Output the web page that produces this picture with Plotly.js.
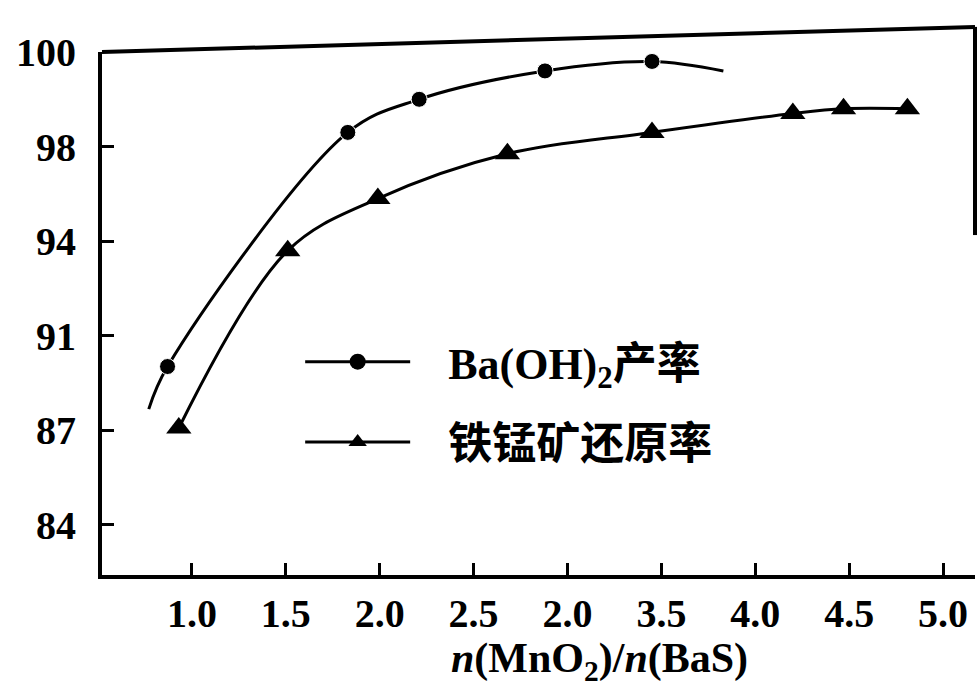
<!DOCTYPE html>
<html>
<head>
<meta charset="utf-8">
<script src="https://cdn.plot.ly/plotly-3.0.1.min.js"></script>
<style>
  html, body { margin: 0; padding: 0; background: #fff; }
  #chart { width: 978px; height: 687px; }
</style>
</head>
<body>
<div id="chart"></div>
<script>
// ---- data ----
const xTickVals = [1.0, 1.5, 2.0, 2.5, 3.0, 3.5, 4.0, 4.5, 5.0];
const xTickText = ['1.0', '1.5', '2.0', '2.5', '2.0', '3.5', '4.0', '4.5', '5.0'];
const yTickValues = [84, 87, 91, 94, 98, 100];

const baOHName = 'Ba(OH)<sub>2</sub>产率';
const baOHx = [0.87, 1.83, 2.21, 2.88, 3.45];
const baOHy = [89.7, 98.3, 99.0, 99.6, 99.8];
const baOHCurveStart = [0.77, 87.9];
const baOHCurveEnd = [3.83, 99.6];

const oreName = '铁锰矿还原率';
const orex = [0.93, 1.51, 1.99, 2.68, 3.45, 4.20, 4.47, 4.81];
const orey = [87.1, 93.7, 95.8, 97.7, 98.3, 98.7, 98.8, 98.8];

// ---- the y axis of the original is not linear: ticks are evenly spaced ----
function toAxis(v) {
  const t = yTickValues;
  let i = 0;
  while (i < t.length - 2 && v > t[i + 1]) i++;
  return i + (v - t[i]) / (t[i + 1] - t[i]);
}

const serif = '"Liberation Serif", "Times New Roman", serif';
const mixed = '"Liberation Serif", "Noto Sans CJK SC", serif';
const pad = '\u00a0\u00a0\u00a0';

const cx = [baOHCurveStart[0]].concat(baOHx, [baOHCurveEnd[0]]);
const cy = [baOHCurveStart[1]].concat(baOHy, [baOHCurveEnd[1]]).map(toAxis);
const cs = cx.map((_, i) => (i === 0 || i === cx.length - 1) ? 0 : 16);

const lineStyle = { color: '#000', width: 3, shape: 'spline', smoothing: 1 };

const traces = [
  { // Ba(OH)2 curve with its markers
    x: cx, y: cy, type: 'scatter', mode: 'lines+markers', showlegend: false,
    line: lineStyle,
    marker: { symbol: 'circle', size: cs, color: '#000', opacity: 1 }
  },
  { // ore reduction curve
    x: orex, y: orey.map(toAxis), type: 'scatter', mode: 'lines+markers', showlegend: false,
    line: lineStyle,
    marker: { symbol: 'triangle-up', size: 22, color: '#000', opacity: 1 }
  },
  { // legend entries
    x: [null], y: [null], name: pad + baOHName, type: 'scatter', mode: 'lines+markers',
    line: lineStyle, marker: { symbol: 'circle', size: 16, color: '#000' }, legendgroup: 'a'
  },
  {
    x: [null], y: [null], name: pad + oreName, type: 'scatter', mode: 'lines+markers',
    line: lineStyle, marker: { symbol: 'triangle-up', size: 20, color: '#000' }, legendgroup: 'b'
  }
];

const layout = {
  width: 978, height: 687,
  margin: { l: 102, r: 3, t: 52, b: 112 },
  paper_bgcolor: '#fff', plot_bgcolor: '#fff',
  showlegend: true,
  legend: {
    x: 0.227, y: 0.475, xanchor: 'left', yanchor: 'top',
    bgcolor: 'rgba(0,0,0,0)', itemwidth: 105,
    traceorder: 'grouped', tracegroupgap: 20,
    font: { family: mixed, size: 44, color: '#000', weight: 'bold' }
  },
  xaxis: {
    range: [0.521, 5.17],
    tickmode: 'array', tickvals: xTickVals, ticktext: xTickText,
    ticks: 'inside', ticklen: 12, tickwidth: 3, tickcolor: '#000',
    showline: true, linecolor: '#000', linewidth: 4,
    showgrid: false, zeroline: false,
    ticklabelstandoff: 0,
    tickfont: { family: serif, size: 40, color: '#000', weight: 'bold' }
  },
  yaxis: {
    range: [-0.529, 5.0],
    tickmode: 'array', tickvals: yTickValues.map(toAxis), ticktext: yTickValues.map(String),
    ticks: 'inside', ticklen: 12, tickwidth: 3, tickcolor: '#000',
    showline: true, linecolor: '#000', linewidth: 4,
    showgrid: false, zeroline: false,
    ticklabelstandoff: 14,
    tickfont: { family: serif, size: 40, color: '#000', weight: 'bold' }
  },
  shapes: [
    { type: 'line', xref: 'paper', yref: 'paper', x0: 0, y0: 1, x1: 1, y1: 1.048,
      line: { color: '#000', width: 4 } },
    { type: 'line', xref: 'paper', yref: 'paper', x0: 1, y0: 1.048, x1: 1, y1: 0.65,
      line: { color: '#000', width: 4 } }
  ],
  annotations: [
    { xref: 'paper', yref: 'paper', x: 0.57, y: -0.11, xanchor: 'center', yanchor: 'top',
      showarrow: false, text: '<i>n</i>(MnO<sub>2</sub>)/<i>n</i>(BaS)',
      font: { family: serif, size: 42, color: '#000', weight: 'bold' } }
  ]
};

Plotly.newPlot('chart', traces, layout, { displayModeBar: false, staticPlot: true });
</script>
</body>
</html>
